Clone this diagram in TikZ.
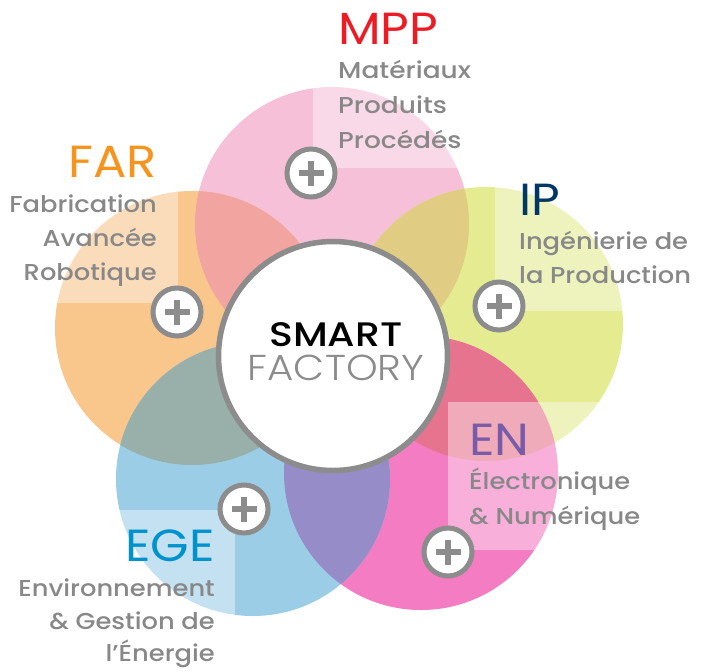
\documentclass[tikz,border=0pt]{standalone}
\usepackage{graphicx}
\usepackage{fontspec}
\setmainfont{Poppins}
\newfontfamily\lightf{Poppins Light}
\newfontfamily\medf{Poppins Medium}
\newcommand\hstretch[2]{\scalebox{#1}[1]{#2}}
\definecolor{cMPP}{RGB}{246,192,216}
\definecolor{cFAR}{RGB}{249,198,140}
\definecolor{cIP}{RGB}{228,235,145}
\definecolor{cEN}{RGB}{244,124,194}
\definecolor{cEGE}{RGB}{156,205,230}
\definecolor{oMF}{RGB}{242,164,160}
\definecolor{oMI}{RGB}{224,204,130}
\definecolor{oIE}{RGB}{230,116,142}
\definecolor{oEG}{RGB}{150,140,200}
\definecolor{oGF}{RGB}{152,175,170}
\definecolor{greyT}{RGB}{136,136,136}
\definecolor{greyL}{RGB}{140,140,140}
\definecolor{tMPP}{RGB}{237,28,36}
\definecolor{tFAR}{RGB}{247,148,29}
\definecolor{tIP}{RGB}{0,56,101}
\definecolor{tEN}{RGB}{122,91,168}
\definecolor{tEGE}{RGB}{0,146,204}
\tikzset{
  petal/.style={fill=#1},
  litebox/.style={fill=white,fill opacity=0.4},
  ttl/.style={inner sep=0pt,font=\fontsize{45}{45}\selectfont,text=#1},
  sub/.style={inner sep=0pt,font=\medf\fontsize{23}{23}\selectfont,text=greyT},
  plusring/.style={circle,draw=greyL,line width=5pt,fill=white,minimum size=48pt,inner sep=0pt},
  plusbar/.style={draw=greyL,line width=5.5pt}
}
\begin{document}
\begin{tikzpicture}[x=1pt,y=-1pt]
\useasboundingbox (0,0) rectangle (701,670);
\coordinate (M) at (332,224);
\coordinate (F) at (192,328);
\coordinate (I) at (486,324);
\coordinate (E) at (421,473);
\coordinate (G) at (253,479);
\def\R{137pt}
% petals
\fill[petal=cMPP] (M) circle (\R);
\fill[petal=cFAR] (F) circle (\R);
\fill[petal=cIP] (I) circle (\R);
\fill[petal=cEN] (E) circle (\R);
\fill[petal=cEGE] (G) circle (\R);
% overlaps
\begin{scope}\clip (M) circle (\R); \fill[oMF] (F) circle (\R); \end{scope}
\begin{scope}\clip (M) circle (\R); \fill[oMI] (I) circle (\R); \end{scope}
\begin{scope}\clip (I) circle (\R); \fill[oIE] (E) circle (\R); \end{scope}
\begin{scope}\clip (E) circle (\R); \fill[oEG] (G) circle (\R); \end{scope}
\begin{scope}\clip (G) circle (\R); \fill[oGF] (F) circle (\R); \end{scope}
% light text boxes
\fill[litebox] (313,80) rectangle (500,168);
\fill[litebox] (40,180) rectangle (178,303);
\fill[litebox] (495,180) rectangle (640,311);
\fill[litebox] (448,402) rectangle (660,550);
\fill[litebox] (100,510) rectangle (235,630);
% centre
\node[circle,draw=greyL,line width=5.5pt,fill=white,minimum size=229pt,inner sep=0pt] (C) at (333,356) {};
\node[inner sep=0pt,anchor=base,font=\medf\fontsize{34}{34}\selectfont,text=black] (smart) at (336,346) {\hstretch{1.16}{SMART}};
\node[inner sep=0pt,anchor=base,font=\lightf\fontsize{36}{36}\selectfont,text=greyL] (factory) at (336,380) {\hstretch{1.12}{FACTORY}};
% plus icons
\foreach \n/\p in {pM/{(311,173)},pF/{(177,312)},pI/{(499,306)},pE/{(448,552)},pG/{(244,509)}}{
  \node[plusring] (\n) at \p {};
  \draw[plusbar] ([xshift=-12.5pt]\n.center) -- ([xshift=12.5pt]\n.center);
  \draw[plusbar] ([yshift=-12.5pt]\n.center) -- ([yshift=12.5pt]\n.center);
}
% MPP
\node[ttl=tMPP,anchor=base west] (tM) at (338,44) {\hstretch{1.1}{MPP}};
\node[sub,anchor=base west] (m1) at (338,78) {\hstretch{1.15}{Matériaux}};
\node[sub,anchor=base west] (m2) at (338,113) {\hstretch{1.15}{Produits}};
\node[sub,anchor=base west] (m3) at (338,148) {\hstretch{1.15}{Procédés}};
% FAR
\node[ttl=tFAR,anchor=base east] (tF) at (157,177) {\hstretch{1.1}{FAR}};
\node[sub,anchor=base east] (f1) at (157,212) {\hstretch{1.12}{Fabrication}};
\node[sub,anchor=base east] (f2) at (157,246) {\hstretch{1.12}{Avancée}};
\node[sub,anchor=base east] (f3) at (157,280) {\hstretch{1.12}{Robotique}};
% IP
\node[ttl=tIP,anchor=base west] (tI) at (519,215) {\hstretch{1.1}{IP}};
\node[sub,anchor=base west] (i1) at (519,249) {\hstretch{1.12}{Ingénierie de}};
\node[sub,anchor=base west] (i2) at (519,283) {\hstretch{1.12}{la Production}};
% EN
\node[ttl=tEN,anchor=base west] (tE) at (469,455) {\hstretch{1.1}{EN}};
\node[sub,anchor=base west] (e1) at (469,489) {\hstretch{1.12}{Électronique}};
\node[sub,anchor=base west] (e2) at (469,524) {\hstretch{1.12}{\& Numérique}};
% EGE
\node[ttl=tEGE,anchor=base east] (tG) at (215,561) {\hstretch{1.1}{EGE}};
\node[sub,anchor=base east] (g1) at (215,596) {\hstretch{1.12}{Environnement}};
\node[sub,anchor=base east] (g2) at (215,629) {\hstretch{1.12}{\& Gestion de}};
\node[sub,anchor=base east] (g3) at (215,661) {\hstretch{1.12}{l’Énergie}};
\end{tikzpicture}
\end{document}
